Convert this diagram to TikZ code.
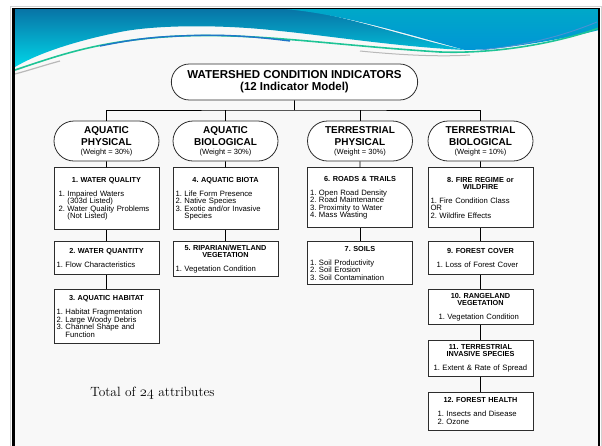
\documentclass[tikz,border=0pt]{standalone}
\usepackage{fontspec}
\newfontfamily\arial{Liberation Sans}
\usetikzlibrary{shapes.misc,positioning}

\definecolor{hdrdark}{RGB}{8,116,166}
\definecolor{hdrcyan}{RGB}{0,214,232}
\definecolor{hdrteal}{RGB}{0,168,200}
\definecolor{hdrblue}{RGB}{0,150,214}
\definecolor{stripegreen}{RGB}{30,196,150}
\definecolor{stripeblue}{RGB}{30,118,200}
\definecolor{slidebg}{RGB}{248,248,248}
\definecolor{boxline}{RGB}{45,45,45}

%% title centred, items left (optional extra indent)
\newcommand{\indicator}[3][0pt]{%
  \frenchspacing
  {\centering\bfseries\fontsize{7.3}{7.2}\selectfont #2\par}%
  \vspace{6.5pt}%
  {\leftskip=#1\relax #3\par}}
\newcommand{\weighttext}[1]{{\mdseries\fontsize{7.5}{9}\selectfont #1}}

\begin{document}
\begin{tikzpicture}[x=1pt, y=-1pt,
    node distance=11pt,
    root/.style={draw=boxline, line width=0.8pt, rounded rectangle, fill=white,
                 minimum width=253pt, minimum height=36pt, align=center,
                 font=\arial\bfseries\fontsize{11.5}{12}\selectfont},
    group/.style={draw=boxline, line width=0.8pt, rounded rectangle, fill=white,
                  minimum width=107pt, minimum height=40pt, inner sep=1pt,
                  align=center, font=\arial\bfseries\fontsize{10}{12}\selectfont},
    ibox/.style={draw=boxline, line width=0.8pt, rectangle, fill=white,
                 text width=100pt, inner xsep=2.5pt, inner ysep=2pt, align=left,
                 font=\arial\fontsize{7.7}{7.5}\selectfont},
    link/.style={draw=black, line width=0.8pt},
]
\useasboundingbox (0,0) rectangle (602,445);
\clip (0,0) rectangle (602,445);

%% Slide background and header wave
\fill[white] (0,0) rectangle (602,445);
\draw[gray!35, line width=1pt] (10.5,6) rectangle (601.5,470);
\fill[slidebg] (13,8) rectangle (599,470);
\shade[top color=hdrdark, bottom color=hdrcyan]
  (15,9) -- (300,9) .. controls (360,20) and (410,38) .. (465,50)
  .. controls (400,47) and (330,36) .. (280,31)
  .. controls (230,25) and (160,24) .. (120,32)
  .. controls (70,42) and (35,55) .. (15,67) -- cycle;
\shade[top color=hdrteal, bottom color=hdrblue]
  (285,9) -- (599,9) -- (599,30) .. controls (560,40) and (500,50) .. (465,50)
  .. controls (400,32) and (340,14) .. (285,9) -- cycle;
\draw[stripegreen, line width=1.6pt] (15,70) .. controls (60,55) and (100,40) .. (180,36)
  .. controls (260,33) and (330,45) .. (440,52) .. controls (500,54) and (560,42) .. (599,28);
\draw[stripeblue, line width=1.4pt] (100,46) .. controls (130,40) and (150,37) .. (180,36)
  .. controls (220,34) and (250,36) .. (290,41);
\draw[stripeblue!80, line width=0.9pt] (480,50) .. controls (530,45) and (565,35) .. (597,22);
\draw[gray!55, line width=1.2pt] (15,74) .. controls (30,70) and (45,65) .. (60,61);
\draw[gray!55, line width=1pt] (360,51) .. controls (400,55) and (440,57) .. (470,55);

\draw[black, line width=1.4pt] (13.5,8.5) -- (598.8,8.5) -- (598.8,470);
\draw[black, line width=3pt] (13.5,8) -- (13.5,470);

%% Root and the four groups
\node[root] (root) at (294.5,82) {WATERSHED CONDITION INDICATORS\\(12 Indicator Model)};
\coordinate (bus) at (294.5,110);

\node[group] (aqphys)  at (106.5,141) {AQUATIC\\PHYSICAL\\[-3pt]\weighttext{(Weight = 30\%)}};
\node[group] (aqbio)   at (225.5,141) {AQUATIC\\BIOLOGICAL\\[-3pt]\weighttext{(Weight = 30\%)}};
\node[group] (terphys) at (360,141)   {TERRESTRIAL\\PHYSICAL\\[-3pt]\weighttext{(Weight = 30\%)}};
\node[group] (terbio)  at (480.5,141) {TERRESTRIAL\\BIOLOGICAL\\[-3pt]\weighttext{(Weight = 10\%)}};

%% Aquatic physical
\node[ibox, minimum height=62pt, below=6pt of aqphys] (wqual)
  {\indicator[2pt]{1. WATER QUALITY}{1. Impaired Waters\\\phantom{1. }(303d Listed)\\
   2. Water Quality Problems\\\phantom{2. }(Not Listed)}};
\node[ibox, minimum height=33pt, below=11pt of wqual] (wquant)
  {\indicator{2. WATER QUANTITY}{1. Flow Characteristics}};
\node[ibox, minimum height=54pt, below=14pt of wquant] (aqhab)
  {\indicator{3. AQUATIC HABITAT}{1. Habitat Fragmentation\\2. Large Woody Debris\\
   3. Channel Shape and\\\phantom{3. }Function}};

%% Aquatic biological
\node[ibox, minimum height=62pt, below=6pt of aqbio] (aqbiota)
  {\indicator{4. AQUATIC BIOTA}{1. Life Form Presence\\2. Native Species\\
   3. Exotic and/or Invasive\\\phantom{3. }Species}};
\node[ibox, minimum height=35pt, below=11pt of aqbiota] (ripveg)
  {\indicator{5. RIPARIAN/WETLAND\\VEGETATION}{1. Vegetation Condition}};

%% Terrestrial physical
\node[ibox, minimum height=60pt, below=6pt of terphys] (roads)
  {\indicator{6. ROADS \& TRAILS}{1. Open Road Density\\2. Road Maintenance\\
   3. Proximity to Water\\4. Mass Wasting}};
\node[ibox, minimum height=43pt, below=13pt of roads] (soils)
  {\indicator{7. SOILS}{1. Soil Productivity\\2. Soil Erosion\\3. Soil Contamination}};

%% Terrestrial biological
\node[ibox, minimum height=60pt, below=6pt of terbio] (fire)
  {\indicator{8. FIRE REGIME or\\WILDFIRE}{1. Fire Condition Class\\OR\\2. Wildfire Effects}};
\node[ibox, minimum height=33pt, below=13pt of fire] (fcover)
  {\indicator[6pt]{9. FOREST COVER}{1. Loss of Forest Cover}};
\node[ibox, minimum height=35pt, below=14pt of fcover] (rangeveg)
  {\indicator[8pt]{10. RANGELAND\\VEGETATION}{1. Vegetation Condition}};
\node[ibox, minimum height=36pt, below=15pt of rangeveg] (invasive)
  {\indicator[3pt]{11. TERRESTRIAL\\INVASIVE SPECIES}{1. Extent \& Rate of Spread}};
\node[ibox, minimum height=38pt, below=15pt of invasive] (fhealth)
  {\indicator[7pt]{12. FOREST HEALTH}{1. Insects and Disease\\2. Ozone}};

%% Connectors
\draw[link] (root) -- (bus);
\draw[link] (aqphys.north) |- (bus) -| (terbio.north);
\draw[link] (aqbio.north) -- (aqbio.north |- bus);
\draw[link] (terphys.north) -- (terphys.north |- bus);
\draw[link] (aqphys) -- (wqual);
\draw[link] (wqual) -- (wquant);
\draw[link] (wquant) -- (aqhab);
\draw[link] (aqbio) -- (aqbiota);
\draw[link] (aqbiota) -- (ripveg);
\draw[link] (terphys) -- (roads);
\draw[link] (roads) -- (soils);
\draw[link] (terbio) -- (fire);
\draw[link] (fire) -- (fcover);
\draw[link] (fcover) -- (rangeveg);
\draw[link] (rangeveg) -- (invasive);
\draw[link] (invasive) -- (fhealth);

\node[font=\fontsize{13.4}{16}\selectfont] (total) at (152.5,393)
  {Total of {\usefont{OML}{lmm}{m}{it}24} attributes};

\end{tikzpicture}
\end{document}
